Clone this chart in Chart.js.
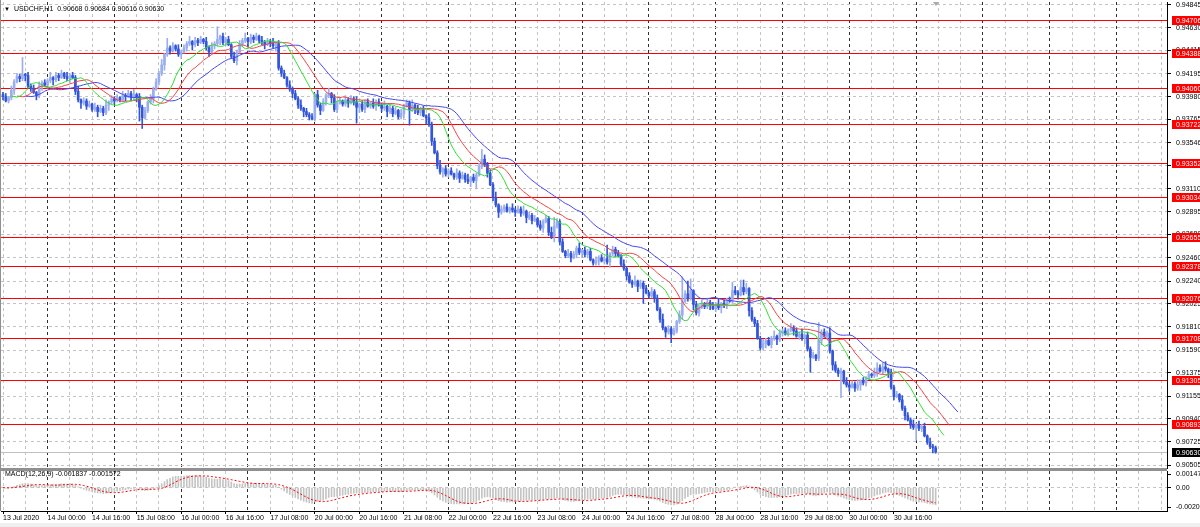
<!DOCTYPE html>
<html lang="en">
<head>
<meta charset="utf-8">
<title>USDCHF,H1</title>
<script src="https://cdn.jsdelivr.net/npm/chart.js@4.4.1/dist/chart.umd.min.js"></script>
<style>
    html, body { margin: 0; padding: 0; background: #f0f0f0; }
    #wrap { position: relative; width: 1200px; height: 527px; overflow: hidden; }
    .pane { position: absolute; left: 0; width: 1200px; background: #fff; }
    #mainPane { top: 0; height: 469px; }
    #macdPane { top: 469px; height: 54px; }
    .caption { position: absolute; font-family: "Liberation Sans", Arial, sans-serif; font-size: 7px; line-height: 8px; color: #000; white-space: pre; }
</style>
</head>
<body>
<div id="wrap">
    <div id="mainPane" class="pane"><canvas id="priceChart"></canvas></div>
    <div id="macdPane" class="pane"><canvas id="macdChart"></canvas></div>
    <div class="caption" style="left:4px;top:5px;font-size:6px;">▼</div>
    <div class="caption" style="left:14px;top:5px;">USDCHF,H1  0.90668 0.90684 0.90616 0.90630</div>
    <div class="caption" style="left:5px;top:470px;">MACD(12,26,9) -0.001837 -0.001572</div>
</div>
<script>
// H1 bars, 13 Jul 2020 08:00 -> 31 Jul 2020 07:00 (weekend hours skipped)
const opens = [
    0.9400,0.9398,0.9394,0.9397,0.9404,0.9412,0.9417,0.9415,0.9419,0.9418,
    0.9408,0.9406,0.9402,0.9399,0.9408,0.9411,0.9409,0.9413,0.9416,0.9414,
    0.9418,0.9416,0.9420,0.9417,0.9415,0.9418,0.9416,0.9403,0.9395,0.9392,
    0.9394,0.9389,0.9391,0.9386,0.9388,0.9384,0.9387,0.9383,0.9390,0.9393,
    0.9396,0.9394,0.9397,0.9395,0.9399,0.9398,0.9401,0.9397,0.9400,0.9398,
    0.9388,0.9378,0.9385,0.9393,0.9396,0.9405,0.9412,0.9420,0.9428,0.9438,
    0.9444,0.9441,0.9446,0.9443,0.9438,0.9440,0.9444,0.9448,0.9450,0.9447,
    0.9451,0.9449,0.9452,0.9450,0.9444,0.9440,0.9446,0.9448,0.9452,0.9455,
    0.9449,0.9452,0.9447,0.9436,0.9432,0.9440,0.9448,0.9451,0.9453,0.9450,
    0.9454,0.9452,0.9455,0.9451,0.9449,0.9447,0.9450,0.9448,0.9446,0.9448,
    0.9425,0.9420,0.9416,0.9409,0.9405,0.9401,0.9396,0.9390,0.9387,0.9384,
    0.9381,0.9379,0.9377,0.9400,0.9390,0.9385,0.9393,0.9399,0.9401,0.9397,
    0.9386,0.9392,0.9394,0.9391,0.9395,0.9392,0.9396,0.9393,0.9388,0.9391,
    0.9386,0.9393,0.9389,0.9392,0.9389,0.9393,0.9390,0.9387,0.9389,0.9384,
    0.9387,0.9382,0.9385,0.9379,0.9382,0.9389,0.9392,0.9386,0.9390,0.9387,
    0.9383,0.9386,0.9380,0.9378,0.9372,0.9356,0.9345,0.9333,0.9327,0.9330,
    0.9325,0.9328,0.9325,0.9322,0.9326,0.9321,0.9324,0.9320,0.9318,0.9322,
    0.9319,0.9324,0.9332,0.9339,0.9334,0.9326,0.9315,0.9303,0.9296,0.9289,
    0.9292,0.9294,0.9290,0.9293,0.9291,0.9289,0.9292,0.9288,0.9290,0.9284,
    0.9286,0.9281,0.9283,0.9277,0.9274,0.9280,0.9283,0.9270,0.9266,0.9276,
    0.9280,0.9261,0.9252,0.9248,0.9250,0.9246,0.9249,0.9255,0.9251,0.9253,
    0.9249,0.9252,0.9244,0.9241,0.9243,0.9246,0.9243,0.9245,0.9242,0.9250,
    0.9254,0.9250,0.9248,0.9240,0.9236,0.9229,0.9223,0.9221,0.9224,0.9219,
    0.9222,0.9217,0.9213,0.9210,0.9214,0.9208,0.9197,0.9188,0.9180,0.9176,
    0.9179,0.9174,0.9177,0.9186,0.9192,0.9205,0.9212,0.9208,0.9215,0.9202,
    0.9194,0.9199,0.9203,0.9200,0.9204,0.9201,0.9198,0.9202,0.9199,0.9203,
    0.9201,0.9206,0.9205,0.9215,0.9213,0.9211,0.9218,0.9214,0.9217,0.9196,
    0.9188,0.9184,0.9170,0.9161,0.9165,0.9168,0.9164,0.9170,0.9172,0.9169,
    0.9175,0.9177,0.9174,0.9178,0.9180,0.9177,0.9172,0.9174,0.9170,0.9173,
    0.9160,0.9152,0.9154,0.9151,0.9168,0.9176,0.9172,0.9175,0.9158,0.9145,
    0.9140,0.9137,0.9139,0.9129,0.9126,0.9124,0.9127,0.9123,0.9126,0.9130,
    0.9128,0.9132,0.9136,0.9135,0.9138,0.9142,0.9139,0.9143,0.9141,0.9138,
    0.9124,0.9115,0.9117,0.9112,0.9104,0.9097,0.9093,0.9088,0.9086,0.9089,
    0.9085,0.9087,0.9078,0.9072,0.9068,0.90668
];
const highs = [
    0.9402,0.9401,0.9398,0.9408,0.9414,0.9420,0.9419,0.9435,0.9420,0.9421,
    0.9410,0.9409,0.9403,0.9412,0.9413,0.9414,0.9415,0.9421,0.9417,0.9421,
    0.9420,0.9423,0.9421,0.9421,0.9420,0.9421,0.9418,0.9408,0.9396,0.9397,
    0.9396,0.9394,0.9392,0.9392,0.9390,0.9390,0.9389,0.9395,0.9394,0.9399,
    0.9398,0.9400,0.9398,0.9403,0.9401,0.9404,0.9403,0.9405,0.9401,0.9401,
    0.9390,0.9388,0.9394,0.9400,0.9407,0.9415,0.9422,0.9433,0.9439,0.9453,
    0.9446,0.9449,0.9447,0.9447,0.9442,0.9447,0.9450,0.9455,0.9451,0.9454,
    0.9453,0.9455,0.9453,0.9454,0.9446,0.9449,0.9450,0.9464,0.9456,0.9458,
    0.9454,0.9455,0.9448,0.9440,0.9442,0.9451,0.9453,0.9458,0.9454,0.9457,
    0.9456,0.9458,0.9456,0.9455,0.9451,0.9453,0.9452,0.9453,0.9449,0.9451,
    0.9427,0.9423,0.9417,0.9413,0.9407,0.9404,0.9398,0.9395,0.9388,0.9387,
    0.9383,0.9382,0.9401,0.9404,0.9392,0.9396,0.9401,0.9406,0.9402,0.9400,
    0.9394,0.9397,0.9395,0.9399,0.9397,0.9399,0.9398,0.9398,0.9392,0.9394,
    0.9395,0.9396,0.9393,0.9396,0.9395,0.9396,0.9392,0.9394,0.9390,0.9390,
    0.9389,0.9388,0.9386,0.9386,0.9391,0.9395,0.9394,0.9395,0.9391,0.9390,
    0.9388,0.9389,0.9381,0.9382,0.9374,0.9359,0.9347,0.9338,0.9331,0.9333,
    0.9330,0.9331,0.9326,0.9330,0.9328,0.9327,0.9326,0.9325,0.9323,0.9325,
    0.9326,0.9335,0.9348,0.9343,0.9336,0.9329,0.9317,0.9308,0.9297,0.9295,
    0.9296,0.9297,0.9294,0.9297,0.9293,0.9295,0.9294,0.9295,0.9291,0.9289,
    0.9288,0.9286,0.9284,0.9281,0.9282,0.9286,0.9285,0.9275,0.9284,0.9283,
    0.9282,0.9264,0.9253,0.9254,0.9252,0.9252,0.9257,0.9260,0.9254,0.9256,
    0.9254,0.9255,0.9245,0.9247,0.9248,0.9249,0.9247,0.9258,0.9251,0.9257,
    0.9256,0.9253,0.9249,0.9244,0.9238,0.9232,0.9225,0.9229,0.9225,0.9225,
    0.9224,0.9220,0.9214,0.9218,0.9216,0.9211,0.9199,0.9193,0.9181,0.9182,
    0.9181,0.9180,0.9187,0.9196,0.9228,0.9215,0.9224,0.9226,0.9216,0.9205,
    0.9201,0.9206,0.9204,0.9208,0.9206,0.9204,0.9204,0.9207,0.9204,0.9206,
    0.9208,0.9209,0.9223,0.9219,0.9215,0.9225,0.9225,0.9222,0.9218,0.9199,
    0.9190,0.9187,0.9172,0.9169,0.9170,0.9171,0.9172,0.9177,0.9173,0.9178,
    0.9179,0.9180,0.9179,0.9184,0.9182,0.9180,0.9176,0.9179,0.9174,0.9176,
    0.9162,0.9157,0.9155,0.9185,0.9178,0.9179,0.9177,0.9180,0.9159,0.9148,
    0.9142,0.9142,0.9140,0.9133,0.9128,0.9130,0.9129,0.9131,0.9131,0.9133,
    0.9134,0.9139,0.9137,0.9142,0.9147,0.9145,0.9147,0.9148,0.9142,0.9141,
    0.9126,0.9120,0.9118,0.9116,0.9106,0.9100,0.9095,0.9093,0.9090,0.9092,
    0.9089,0.9090,0.9079,0.9076,0.9070,0.90684
];
const lows = [
    0.9395,0.9393,0.9392,0.9395,0.9400,0.9411,0.9412,0.9413,0.9413,0.9406,
    0.9403,0.9401,0.9395,0.9397,0.9404,0.9408,0.9406,0.9411,0.9409,0.9412,
    0.9413,0.9415,0.9415,0.9413,0.9411,0.9415,0.9400,0.9393,0.9387,0.9390,
    0.9386,0.9388,0.9384,0.9384,0.9379,0.9383,0.9380,0.9381,0.9385,0.9391,
    0.9391,0.9393,0.9393,0.9393,0.9394,0.9397,0.9394,0.9395,0.9393,0.9375,
    0.9368,0.9377,0.9383,0.9391,0.9392,0.9404,0.9409,0.9418,0.9423,0.9436,
    0.9438,0.9440,0.9441,0.9436,0.9434,0.9439,0.9441,0.9446,0.9442,0.9445,
    0.9446,0.9448,0.9448,0.9442,0.9436,0.9439,0.9443,0.9446,0.9447,0.9447,
    0.9446,0.9446,0.9434,0.9430,0.9428,0.9439,0.9445,0.9449,0.9445,0.9448,
    0.9449,0.9451,0.9449,0.9447,0.9443,0.9446,0.9445,0.9444,0.9441,0.9423,
    0.9417,0.9415,0.9407,0.9403,0.9397,0.9395,0.9387,0.9385,0.9379,0.9379,
    0.9376,0.9376,0.9375,0.9388,0.9381,0.9384,0.9390,0.9397,0.9392,0.9384,
    0.9383,0.9391,0.9389,0.9389,0.9388,0.9391,0.9390,0.9373,0.9383,0.9384,
    0.9383,0.9388,0.9387,0.9387,0.9385,0.9389,0.9384,0.9385,0.9379,0.9382,
    0.9379,0.9381,0.9377,0.9377,0.9378,0.9388,0.9371,0.9384,0.9382,0.9381,
    0.9380,0.9379,0.9372,0.9370,0.9352,0.9344,0.9330,0.9325,0.9322,0.9323,
    0.9322,0.9324,0.9320,0.9320,0.9317,0.9320,0.9317,0.9316,0.9313,0.9317,
    0.9311,0.9323,0.9330,0.9332,0.9322,0.9314,0.9300,0.9294,0.9284,0.9287,
    0.9289,0.9289,0.9288,0.9289,0.9285,0.9288,0.9285,0.9286,0.9279,0.9282,
    0.9278,0.9280,0.9275,0.9272,0.9270,0.9279,0.9267,0.9264,0.9261,0.9274,
    0.9258,0.9251,0.9246,0.9246,0.9242,0.9245,0.9246,0.9249,0.9246,0.9247,
    0.9246,0.9243,0.9239,0.9239,0.9239,0.9242,0.9240,0.9240,0.9237,0.9248,
    0.9247,0.9247,0.9238,0.9234,0.9225,0.9222,0.9218,0.9219,0.9214,0.9217,
    0.9203,0.9212,0.9208,0.9208,0.9204,0.9196,0.9185,0.9178,0.9171,0.9174,
    0.9166,0.9173,0.9175,0.9184,0.9188,0.9204,0.9205,0.9206,0.9197,0.9192,
    0.9191,0.9198,0.9198,0.9198,0.9197,0.9197,0.9195,0.9197,0.9194,0.9199,
    0.9198,0.9204,0.9203,0.9211,0.9207,0.9210,0.9211,0.9212,0.9191,0.9186,
    0.9181,0.9169,0.9159,0.9159,0.9161,0.9163,0.9161,0.9168,0.9164,0.9167,
    0.9172,0.9173,0.9172,0.9176,0.9173,0.9171,0.9169,0.9168,0.9165,0.9158,
    0.9138,0.9151,0.9149,0.9149,0.9164,0.9171,0.9169,0.9156,0.9140,0.9138,
    0.9134,0.9114,0.9127,0.9124,0.9120,0.9123,0.9120,0.9121,0.9121,0.9126,
    0.9125,0.9131,0.9133,0.9133,0.9134,0.9138,0.9136,0.9139,0.9133,0.9122,
    0.9112,0.9114,0.9110,0.9102,0.9093,0.9092,0.9085,0.9084,0.9074,0.9083,
    0.9082,0.9077,0.9070,0.9066,0.9062,0.90616
];
const closes = [
    0.9398,0.9394,0.9397,0.9404,0.9412,0.9417,0.9415,0.9419,0.9418,0.9408,
    0.9406,0.9402,0.9399,0.9408,0.9411,0.9409,0.9413,0.9416,0.9414,0.9418,
    0.9416,0.9420,0.9417,0.9415,0.9418,0.9416,0.9403,0.9395,0.9392,0.9394,
    0.9389,0.9391,0.9386,0.9388,0.9384,0.9387,0.9383,0.9390,0.9393,0.9396,
    0.9394,0.9397,0.9395,0.9399,0.9398,0.9401,0.9397,0.9400,0.9398,0.9388,
    0.9378,0.9385,0.9393,0.9396,0.9405,0.9412,0.9420,0.9428,0.9438,0.9444,
    0.9441,0.9446,0.9443,0.9438,0.9440,0.9444,0.9448,0.9450,0.9447,0.9451,
    0.9449,0.9452,0.9450,0.9444,0.9440,0.9446,0.9448,0.9452,0.9455,0.9449,
    0.9452,0.9447,0.9436,0.9432,0.9440,0.9448,0.9451,0.9453,0.9450,0.9454,
    0.9452,0.9455,0.9451,0.9449,0.9447,0.9450,0.9448,0.9446,0.9448,0.9425,
    0.9420,0.9416,0.9409,0.9405,0.9401,0.9396,0.9390,0.9387,0.9384,0.9381,
    0.9379,0.9377,0.9400,0.9390,0.9385,0.9393,0.9399,0.9401,0.9397,0.9386,
    0.9392,0.9394,0.9391,0.9395,0.9392,0.9396,0.9393,0.9388,0.9391,0.9386,
    0.9393,0.9389,0.9392,0.9389,0.9393,0.9390,0.9387,0.9389,0.9384,0.9387,
    0.9382,0.9385,0.9379,0.9382,0.9389,0.9392,0.9386,0.9390,0.9387,0.9383,
    0.9386,0.9380,0.9378,0.9372,0.9356,0.9345,0.9333,0.9327,0.9330,0.9325,
    0.9328,0.9325,0.9322,0.9326,0.9321,0.9324,0.9320,0.9318,0.9322,0.9319,
    0.9324,0.9332,0.9339,0.9334,0.9326,0.9315,0.9303,0.9296,0.9289,0.9292,
    0.9294,0.9290,0.9293,0.9291,0.9289,0.9292,0.9288,0.9290,0.9284,0.9286,
    0.9281,0.9283,0.9277,0.9274,0.9280,0.9283,0.9270,0.9266,0.9276,0.9280,
    0.9261,0.9252,0.9248,0.9250,0.9246,0.9249,0.9255,0.9251,0.9253,0.9249,
    0.9252,0.9244,0.9241,0.9243,0.9246,0.9243,0.9245,0.9242,0.9250,0.9254,
    0.9250,0.9248,0.9240,0.9236,0.9229,0.9223,0.9221,0.9224,0.9219,0.9222,
    0.9217,0.9213,0.9210,0.9214,0.9208,0.9197,0.9188,0.9180,0.9176,0.9179,
    0.9174,0.9177,0.9186,0.9192,0.9205,0.9212,0.9208,0.9215,0.9202,0.9194,
    0.9199,0.9203,0.9200,0.9204,0.9201,0.9198,0.9202,0.9199,0.9203,0.9201,
    0.9206,0.9205,0.9215,0.9213,0.9211,0.9218,0.9214,0.9217,0.9196,0.9188,
    0.9184,0.9170,0.9161,0.9165,0.9168,0.9164,0.9170,0.9172,0.9169,0.9175,
    0.9177,0.9174,0.9178,0.9180,0.9177,0.9172,0.9174,0.9170,0.9173,0.9160,
    0.9152,0.9154,0.9151,0.9168,0.9176,0.9172,0.9175,0.9158,0.9145,0.9140,
    0.9137,0.9139,0.9129,0.9126,0.9124,0.9127,0.9123,0.9126,0.9130,0.9128,
    0.9132,0.9136,0.9135,0.9138,0.9142,0.9139,0.9143,0.9141,0.9138,0.9124,
    0.9115,0.9117,0.9112,0.9104,0.9097,0.9093,0.9088,0.9086,0.9089,0.9085,
    0.9087,0.9078,0.9072,0.9068,0.90668,0.90630
];

// horizontal lines placed on the chart
const levels = [0.94706, 0.94388, 0.94060, 0.93722, 0.93352, 0.93034, 0.92655, 0.92378, 0.92076, 0.91708, 0.91305, 0.90893];

// price scale labels
const priceTicks = [
    0.94845, 0.94630, 0.94415, 0.94195, 0.93980, 0.93765, 0.93546, 0.93330, 0.93110, 0.92895, 0.92680,
    0.92460, 0.92240, 0.92025, 0.91810, 0.91590, 0.91375, 0.91155, 0.90940, 0.90725, 0.90505
];
const macdTicks = [0.001471, 0, -0.00209];
const macdTickLabels = ['0.001471', '0.00', '-0.00209'];

// time labels, one every 16 bars
const timeLabels = [
    '13 Jul 2020', '14 Jul 00:00', '14 Jul 16:00', '15 Jul 08:00', '16 Jul 00:00', '16 Jul 16:00', '17 Jul 08:00',
    '20 Jul 00:00', '20 Jul 16:00', '21 Jul 08:00', '22 Jul 00:00', '22 Jul 16:00', '23 Jul 08:00', '24 Jul 00:00',
    '24 Jul 16:00', '27 Jul 08:00', '28 Jul 00:00', '28 Jul 16:00', '29 Jul 08:00', '30 Jul 00:00', '30 Jul 16:00'
];

const BULL = '#9aaeee';
const BEAR = '#3355d8';
const JAW = '#4646f0';
const TEETH = '#f04444';
const LIPS = '#33dd33';
const GRID = '#c4c4c4';
const DAY_GRID = '#303030';
const FONT = { family: '"Liberation Sans", Arial, sans-serif', size: 7 };

const LABEL_STEP = 16;
const GRID_STEP = 8;
const X_MIN = -0.72;
const X_MAX = 418.1;
const gridTicks = Array.from({ length: 53 }, (_, k) => k * GRID_STEP);
const isMidnight = v => v >= 16 && (v - 16) % 24 === 0;
const hasLabel = v => v % LABEL_STEP === 0 && v / LABEL_STEP < timeLabels.length;

// Indicators are worked out from the candles, the way the terminal does it
function smma(src, period) {
    let prev = src[0];
    return src.map((v, i) => (prev = i === 0 ? v : (prev * (period - 1) + v) / period));
}
function ema(src, period) {
    const k = 2 / (period + 1);
    let prev = src[0];
    return src.map((v, i) => (prev = i === 0 ? v : prev + k * (v - prev)));
}
function sma(src, period) {
    return src.map((_, i) => {
        const part = src.slice(Math.max(0, i - period + 1), i + 1);
        return part.reduce((a, b) => a + b, 0) / part.length;
    });
}
const shifted = (series, shift) => series.map((v, i) => ({ x: i + shift, y: v }));

const barIndex = closes.map((_, i) => i);
const median = barIndex.map(i => (highs[i] + lows[i]) / 2);
const jaw = smma(median, 13);
const teeth = smma(median, 8);
const lips = smma(median, 5);

const fast = ema(closes, 12);
const slow = ema(closes, 26);
const macdMain = barIndex.map(i => fast[i] - slow[i]);
const macdSignal = sma(macdMain, 9);

const candleColors = barIndex.map(i => (closes[i] >= opens[i] ? BULL : BEAR));

function timeAxis(showLabels) {
    return {
        type: 'linear',
        min: X_MIN,
        max: X_MAX,
        offset: false,
        afterBuildTicks: s => { s.ticks = gridTicks.map(v => ({ value: v })); },
        grid: {
            offset: false,
            color: c => (c.tick && isMidnight(c.tick.value) ? DAY_GRID : GRID),
            drawTicks: showLabels,
            tickLength: 3,
            tickColor: c => (c.tick && hasLabel(c.tick.value) ? '#000' : 'rgba(0,0,0,0)')
        },
        border: { display: showLabels, color: '#000', dash: [3, 3] },
        ticks: {
            display: showLabels,
            autoSkip: false,
            maxRotation: 0,
            minRotation: 0,
            align: 'start',
            padding: 0,
            color: '#000',
            font: FONT,
            callback: v => (hasLabel(v) ? timeLabels[v / LABEL_STEP] : '')
        },
        afterFit: s => { s.height = showLabels ? 12 : 0; s.paddingLeft = 0; s.paddingRight = 0; }
    };
}

// Levels, bid line and their price tags
const levelsPlugin = {
    id: 'levels',
    beforeDatasetsDraw(chart) {
        const { ctx, chartArea: a, scales: { y } } = chart;
        ctx.save();
        ctx.lineWidth = 1;
        const bidY = Math.round(y.getPixelForValue(closes[closes.length - 1])) + 0.5;
        ctx.strokeStyle = '#c0c0c0';
        ctx.beginPath(); ctx.moveTo(a.left, bidY); ctx.lineTo(a.right, bidY); ctx.stroke();
        ctx.strokeStyle = '#ff0000';
        levels.forEach(v => {
            const py = Math.round(y.getPixelForValue(v)) + 0.5;
            ctx.beginPath(); ctx.moveTo(a.left, py); ctx.lineTo(a.right, py); ctx.stroke();
        });
        ctx.restore();
    },
    afterDraw(chart) {
        const { ctx, chartArea: a, scales: { x, y } } = chart;
        ctx.save();
        ctx.font = '7px "Liberation Sans", Arial, sans-serif';
        ctx.textBaseline = 'middle';
        const tag = (v, bg) => {
            const py = Math.round(y.getPixelForValue(v));
            ctx.fillStyle = bg;
            ctx.fillRect(a.right + 5, py - 4, 28, 9);
            ctx.fillStyle = '#fff';
            ctx.fillText(v.toFixed(5), a.right + 9, py + 1);
        };
        levels.forEach(v => tag(v, '#ff0000'));
        tag(closes[closes.length - 1], '#000');
        // chart shift marker above the last bar
        const sx = Math.round(x.getPixelForValue(closes.length - 1));
        ctx.fillStyle = '#a8a8a8';
        ctx.beginPath(); ctx.moveTo(sx - 3, a.top); ctx.lineTo(sx + 3, a.top); ctx.lineTo(sx, a.top + 4); ctx.closePath(); ctx.fill();
        // frame
        ctx.fillStyle = '#909090';
        ctx.fillRect(0, 0, 1, chart.height);
        ctx.fillRect(0, a.bottom, a.right, 1);
        ctx.restore();
    }
};

const macdFramePlugin = {
    id: 'macdFrame',
    afterDraw(chart) {
        const { ctx, chartArea: a } = chart;
        ctx.save();
        ctx.fillStyle = '#909090';
        ctx.fillRect(0, 0, a.right, 2);
        ctx.fillRect(0, 0, 1, a.bottom);
        ctx.restore();
    }
};

new Chart(document.getElementById('priceChart'), {
    type: 'bar',
    data: {
        datasets: [
            { type: 'line', label: 'Lips', data: shifted(lips, 3), borderColor: LIPS, borderWidth: 1, pointRadius: 0, order: 0 },
            { type: 'line', label: 'Teeth', data: shifted(teeth, 5), borderColor: TEETH, borderWidth: 1, pointRadius: 0, order: 0 },
            { type: 'line', label: 'Jaw', data: shifted(jaw, 8), borderColor: JAW, borderWidth: 1, pointRadius: 0, order: 0 },
            {
                label: 'Body',
                data: barIndex.map(i => ({ x: i, y: [opens[i], closes[i]] })),
                backgroundColor: candleColors,
                barThickness: 2,
                minBarLength: 1,
                grouped: false,
                order: 1
            },
            {
                label: 'Wick',
                data: barIndex.map(i => ({ x: i, y: [lows[i], highs[i]] })),
                backgroundColor: candleColors,
                barThickness: 1,
                grouped: false,
                order: 2
            }
        ]
    },
    options: {
        responsive: true,
        maintainAspectRatio: false,
        animation: false,
        events: [],
        layout: { padding: { left: 1, top: 2, right: 0, bottom: 1 } },
        plugins: { legend: { display: false }, tooltip: { enabled: false } },
        scales: {
            x: timeAxis(false),
            y: {
                position: 'right',
                min: 0.90477,
                max: 0.94873,
                afterBuildTicks: s => { s.ticks = priceTicks.map(v => ({ value: v })); },
                grid: { color: GRID, drawTicks: true, tickLength: 4, tickColor: '#000' },
                border: { display: true, color: '#000', dash: [3, 3] },
                ticks: { autoSkip: false, padding: 5, color: '#000', font: FONT, callback: v => v.toFixed(5) },
                afterFit: s => { s.width = 33; s.paddingTop = 0; s.paddingBottom = 0; }
            }
        }
    },
    plugins: [levelsPlugin]
});

new Chart(document.getElementById('macdChart'), {
    type: 'bar',
    data: {
        datasets: [
            {
                type: 'line',
                label: 'Signal',
                data: barIndex.map(i => ({ x: i, y: macdSignal[i] })),
                borderColor: '#ff0000',
                borderDash: [2, 2],
                borderWidth: 1,
                pointRadius: 0,
                order: 0
            },
            {
                label: 'MACD',
                data: barIndex.map(i => ({ x: i, y: macdMain[i] })),
                backgroundColor: '#c4c4c4',
                barThickness: 1,
                grouped: false,
                order: 1
            }
        ]
    },
    options: {
        responsive: true,
        maintainAspectRatio: false,
        animation: false,
        events: [],
        layout: { padding: { left: 1, top: 2, right: 0, bottom: 0 } },
        plugins: { legend: { display: false }, tooltip: { enabled: false } },
        scales: {
            x: timeAxis(true),
            y: {
                position: 'right',
                min: -0.00252,
                max: 0.0018,
                afterBuildTicks: s => { s.ticks = macdTicks.map(v => ({ value: v })); },
                grid: {
                    color: c => (c.tick && c.tick.value === 0 ? GRID : 'rgba(0,0,0,0)'),
                    drawTicks: true,
                    tickLength: 4,
                    tickColor: '#000'
                },
                border: { display: true, color: '#000', dash: [3, 3] },
                ticks: { autoSkip: false, padding: 5, color: '#000', font: FONT, callback: (v, i) => macdTickLabels[i] },
                afterFit: s => { s.width = 33; s.paddingTop = 0; s.paddingBottom = 0; }
            }
        }
    },
    plugins: [macdFramePlugin]
});
</script>
</body>
</html>
